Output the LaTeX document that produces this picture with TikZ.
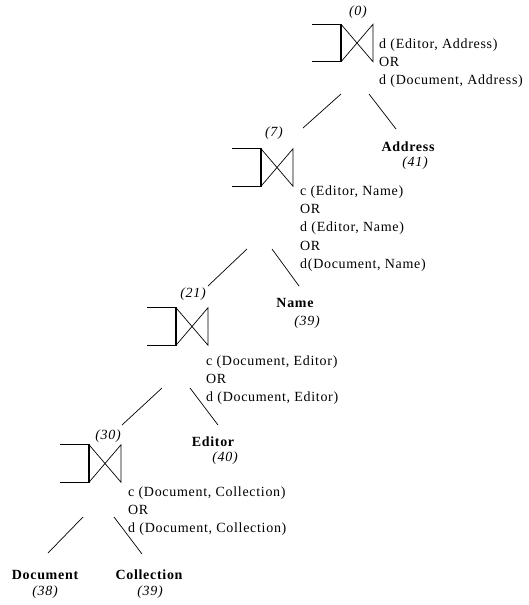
\documentclass[tikz,border=0pt]{standalone}
\usepackage{fontspec}
\setmainfont[LetterSpace=5]{Liberation Serif}
\begin{document}
\begin{tikzpicture}[x=1pt,y=-1pt,
	every node/.style={font=\fontsize{14}{18.2}\selectfont, inner sep=0pt},
	cond/.style={anchor=north west, align=left},
	leaf/.style={font=\fontsize{14}{18.2}\selectfont\bfseries},
	num/.style={font=\fontsize{14}{18.2}\selectfont\itshape},
	branch/.style={line width=0.7pt},
	bowtie/.pic={
		\draw[line width=1.3pt] (-29,-18.75) -- (0,-18.75) -- (0,18.75) -- (-29,18.75);
		\draw[line width=0.7pt] (0,-18.75) -- (32,18.75) -- (32,-18.75) -- (0,18.75);
	}]

	\useasboundingbox (0,0) rectangle (528,605);

	% Join (0)
	\node[num] (l0) at (358,12) {(0)};
	\path (341,43) pic {bowtie};
	\node[cond] (c0) at (379,38.6) {d (Editor, Address)\\OR\\d (Document, Address)};

	% Join (7)
	\node[num] (l7) at (274,133) {(7)};
	\path (261,167.5) pic {bowtie};
	\node[cond] (c7) at (300,185.6) {c (Editor, Name)\\OR\\d (Editor, Name)\\OR\\d(Document, Name)};

	% Join (21)
	\node[num] (l21) at (193,294) {(21)};
	\path (176,326.5) pic {bowtie};
	\node[cond] (c21) at (206,355.6) {c (Document, Editor)\\OR\\d (Document, Editor)};

	% Join (30)
	\node[num] (l30) at (108,436) {(30)};
	\path (89,463.5) pic {bowtie};
	\node[cond] (c30) at (128,486.6) {c (Document, Collection)\\OR\\d (Document, Collection)};

	% Leaves
	\node[leaf] (addr) at (408,147) {Address};
	\node[num] (addrn) at (415,163) {(41)};
	\node[leaf] (name) at (295,303) {Name};
	\node[num] (namen) at (307,322) {(39)};
	\node[leaf] (edit) at (213,442) {Editor};
	\node[num] (editn) at (225,458) {(40)};
	\node[leaf] (doc) at (45,575) {Document};
	\node[num] (docn) at (45,592) {(38)};
	\node[leaf] (coll) at (149,575) {Collection};
	\node[num] (colln) at (150,592) {(39)};

	% Branch ends
	\coordinate (j0-l) at (341,94);
	\coordinate (j0-r) at (369,94);
	\coordinate (l7-top) at (303,128);
	\coordinate (addr-top) at (396,129);
	\coordinate (j7-l) at (247,249);
	\coordinate (j7-r) at (272,249);
	\coordinate (l21-top) at (208,286);
	\coordinate (name-top) at (299,286);
	\coordinate (j21-l) at (162,388);
	\coordinate (j21-r) at (190,388);
	\coordinate (l30-top) at (122,425);
	\coordinate (edit-top) at (218,425);
	\coordinate (j30-l) at (83,517);
	\coordinate (j30-r) at (114,517);
	\coordinate (doc-top) at (48,553);
	\coordinate (coll-top) at (142,554);

	\draw[branch] (j0-l) -- (l7-top);
	\draw[branch] (j0-r) -- (addr-top);
	\draw[branch] (j7-l) -- (l21-top);
	\draw[branch] (j7-r) -- (name-top);
	\draw[branch] (j21-l) -- (l30-top);
	\draw[branch] (j21-r) -- (edit-top);
	\draw[branch] (j30-l) -- (doc-top);
	\draw[branch] (j30-r) -- (coll-top);

\end{tikzpicture}
\end{document}
